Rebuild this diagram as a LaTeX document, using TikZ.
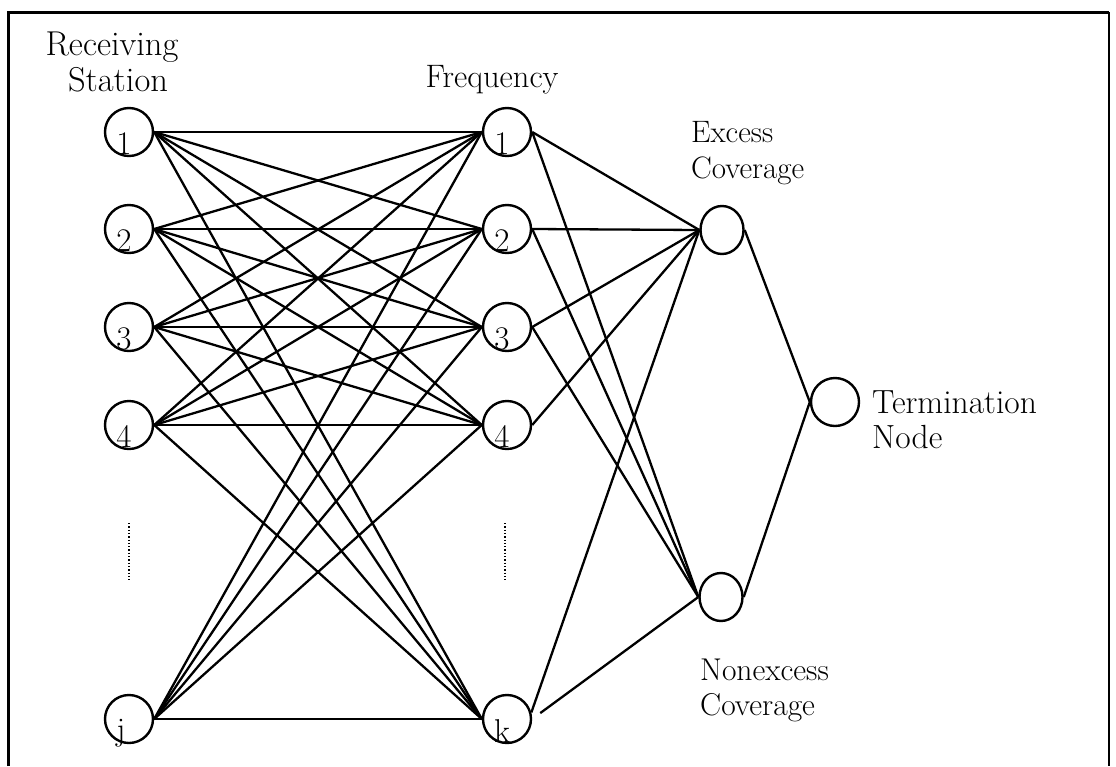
\documentclass[tikz,border=0pt]{standalone}
\usetikzlibrary{shapes.geometric}
\begin{document}
\begin{tikzpicture}[x=1pt,y=-1pt,
  vert/.style={circle, draw, minimum size=48pt, inner sep=0pt, line width=2.4pt},
  oval/.style={ellipse, draw, minimum width=43pt, minimum height=48pt, inner sep=0pt, line width=2.4pt},
  num/.style={anchor=base, inner sep=0pt, font=\fontsize{33}{38}\selectfont},
  lab/.style={anchor=base west, inner sep=0pt},
  edge/.style={line width=2.3pt},
  frame/.style={line width=3pt}]
\useasboundingbox (0,0) rectangle (1116,766);
% frame
\coordinate (fbl) at (8,766);
\coordinate (ftl) at (8,12);
\coordinate (ftr) at (1109,12);
\coordinate (fbr) at (1109,766);
\draw[frame] (fbl) -- (ftl) -- (ftr);
\draw[line width=1.5pt] (ftr) -- (fbr);
% left column
\node[vert] (L1) at (129,132) {};
\node[vert] (L2) at (129,229) {};
\node[vert] (L3) at (129,327) {};
\node[vert] (L4) at (129,425) {};
\node[vert] (Lj) at (129,719) {};
% middle column
\node[vert] (M1) at (507,132) {};
\node[vert] (M2) at (507,229) {};
\node[vert] (M3) at (507,327) {};
\node[vert] (M4) at (507,425) {};
\node[vert] (Mk) at (507,719) {};
% right nodes
\node[oval] (ex) at (722,230) {};
\node[oval] (nx) at (721,597) {};
\node[vert] (tm) at (835,402) {};
% numbers
\node[num] (L1t) at (124,154) {1};
\node[num] (L2t) at (124,251) {2};
\node[num] (L3t) at (124,349) {3};
\node[num] (L4t) at (124,447) {4};
\node[num] (Ljt) at (121,740) {j};
\node[num] (M1t) at (502,154) {1};
\node[num] (M2t) at (502,251) {2};
\node[num] (M3t) at (502,349) {3};
\node[num] (M4t) at (502,447) {4};
\node[num] (Mkt) at (502,742) {k};
% dotted ellipses
\coordinate (dl1) at (129,523); \coordinate (dl2) at (129,580);
\coordinate (dm1) at (505,523); \coordinate (dm2) at (505,580);
\draw[line width=1.3pt, dotted] (dl1) -- (dl2);
\draw[line width=1.3pt, dotted] (dm1) -- (dm2);
% labels
\node[anchor=base, inner sep=0pt, font=\fontsize{34.5}{40}\selectfont] (rcv) at (112,55) {Receiving};
\node[anchor=base, inner sep=0pt, font=\fontsize{34.5}{40}\selectfont] (stn) at (118,91) {Station};
\node[anchor=base, inner sep=0pt, font=\fontsize{32.5}{38}\selectfont] (frq) at (492,87) {Frequency};
\node[lab, font=\fontsize{31}{36}\selectfont] (exl1) at (691,142) {Excess};
\node[lab, font=\fontsize{31}{36}\selectfont] (exl2) at (691,178) {Coverage};
\node[lab, font=\fontsize{31.5}{36}\selectfont] (nxl1) at (700,680) {Nonexcess};
\node[lab, font=\fontsize{31.5}{36}\selectfont] (nxl2) at (700,715) {Coverage};
\node[lab, font=\fontsize{33.5}{38}\selectfont] (tml1) at (872,413) {Termination};
\node[lab, font=\fontsize{33.5}{38}\selectfont] (tml2) at (872,448) {Node};
% bipartite edges
\foreach \a in {1,2,3,4,j} {
  \foreach \b in {1,2,3,4,k} {
    \draw[edge] (L\a.east) -- (M\b.west);
  }
}
% to excess / nonexcess
\foreach \b in {1,2,3,4} \draw[edge] (M\b.east) -- (ex.west);
\draw[edge] (Mk.15) -- (ex.west);
\foreach \b in {1,2,3} \draw[edge] (M\b.east) -- (nx.west);
\draw[edge, shorten <=10pt] (Mk.east) -- (nx.west);
% to termination
\draw[edge] (ex.east) -- (tm.west);
\draw[edge] (nx.east) -- (tm.west);
\end{tikzpicture}
\end{document}
